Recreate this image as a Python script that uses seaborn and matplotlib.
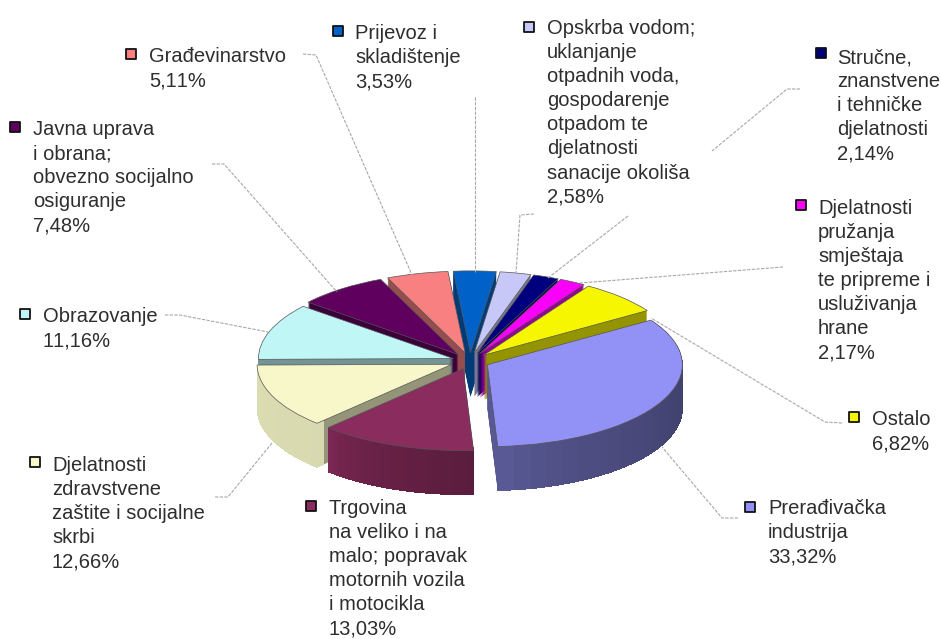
import numpy as np
import matplotlib
matplotlib.use("Agg")
import matplotlib.pyplot as plt
from matplotlib.patches import Wedge
import seaborn as sns

# udjeli po djelatnostima, u smjeru kazaljke od Preradivacke industrije
labels = [
    "Prerađivačka\nindustrija",
    "Trgovina\nna veliko i na\nmalo; popravak\nmotornih vozila\ni motocikla",
    "Djelatnosti\nzdravstvene\nzaštite i socijalne\nskrbi",
    "Obrazovanje",
    "Javna uprava\ni obrana;\nobvezno socijalno\nosiguranje",
    "Građevinarstvo",
    "Prijevoz i\nskladištenje",
    "Opskrba vodom;\nuklanjanje\notpadnih voda,\ngospodarenje\notpadom te\ndjelatnosti\nsanacije okoliša",
    "Stručne,\nznanstvene\ni tehničke\ndjelatnosti",
    "Djelatnosti\npružanja\nsmještaja\nte pripreme i\nusluživanja\nhrane",
    "Ostalo",
]
values = [33.32, 13.03, 12.66, 11.16, 7.48, 5.11, 3.53, 2.58, 2.14, 2.17, 6.82]
colors = ["#9292F6", "#8B2C5E", "#F7F7C9", "#C0F6F6", "#5F005F", "#F98080",
          "#0062C8", "#C8C8F8", "#00007E", "#FA00FA", "#F6F600"]

# polozaj natpisa (lijevi rub teksta, sredina prvog retka) u pikselima slike
label_x = [768, 329, 52, 43, 33, 149, 355, 547, 837, 818, 872]
label_y = [507, 507, 464, 315, 128, 55, 32, 27, 56, 207, 418]
marker_x = [750, 311, 35, 25, 15, 131, 338, 529, 821, 801, 854]
marker_y = [507, 506, 462, 314, 127, 54, 31, 27, 53, 205, 417]

leaders = [
    [(738, 518), (722, 518), (662, 447)],
    [(215, 497), (228, 497), (272, 443)],
    [(165, 315), (180, 315), (268, 332)],
    [(212, 164), (224, 164), (337, 292)],
    [(303, 54), (316, 55), (412, 275)],
    [(475, 97), (475, 272)],
    [(534, 214), (520, 215), (516, 273)],
    [(800, 89), (787, 89), (712, 151)],
    [(628, 216), (548, 278)],
    [(783, 267), (580, 283)],
    [(842, 423), (825, 422), (651, 318)],
]

W, H = 941, 639
cx, cy, R, k = 470, 361, 195, 0.42
depth = 44
start = 33
explode = [0.1, 0.1, 0.1, 0.09, 0.1, 0.1, 0.1, 0.1, 0.1, 0.1, 0.1]

# sjena boka kruga: lijevo -> desno, samo za prednje kriske
rim = {0: (0.64, 0.41), 1: (0.92, 0.65), 2: (0.90, 0.88)}

sns.set_theme(style="white")
plt.rcParams["font.family"] = ["Liberation Sans", "DejaVu Sans"]
plt.rcParams["text.kerning_factor"] = 6

fig = plt.figure(figsize=(W / 100, H / 100), dpi=100, facecolor="white")
ax = fig.add_axes([0, 0, 1, 1])

palette = sns.color_palette(colors)
walls = [tuple(c * 0.6 for c in col) for col in palette]
step = 1 / (R * k)

# bok: slojevi odozdo prema gore
for i in range(depth, 0, -1):
    wedges, _ = ax.pie(values, colors=walls, explode=explode, startangle=start,
                       counterclock=False, center=(0, -i * step), radius=1,
                       wedgeprops={"linewidth": 0})
    for j, (left, right) in rim.items():
        w = wedges[j]
        edges = np.linspace(w.theta1, w.theta2, 25)
        for n in range(24):
            t = (n + 0.5) / 24
            shade = left + (right - left) * t ** 0.5
            col = tuple(c * shade for c in palette[j])
            ax.add_patch(Wedge(w.center, 1, edges[n], min(edges[n + 1] + 1, w.theta2),
                               width=0.05, facecolor=col, edgecolor="none",
                               antialiased=False))

# gornja ploha
ax.pie(values, colors=palette, explode=explode, startangle=start,
       counterclock=False, center=(0, 0), radius=1,
       wedgeprops={"linewidth": 0.5, "edgecolor": "#555555"})

ax.set_aspect("auto")
ax.set_xlim(-cx / R, (W - cx) / R)
ax.set_ylim((cy - H) / (R * k), cy / (R * k))
ax.axis("off")

# sloj s natpisima u pikselima
lab = fig.add_axes([0, 0, 1, 1], facecolor="none")
lab.set_xlim(0, W)
lab.set_ylim(H, 0)
lab.axis("off")

for pts in leaders:
    xs, ys = zip(*pts)
    lab.plot(xs, ys, color="#a8a8a8", lw=0.8, ls=(0, (3, 1.2)))

lab.scatter(marker_x, marker_y, s=48, c=palette, marker="s",
            edgecolors="#111111", linewidths=1.3, zorder=3)

for name, v, x, y in zip(labels, values, label_x, label_y):
    txt = name + "\n" + f"{v:.2f}".replace(".", ",") + "%"
    lab.text(x, y - 8, txt, fontsize=14.5, color="#2e2e2e", ha="left", va="top",
             linespacing=1.34)

fig.savefig("out.png", dpi=100)
